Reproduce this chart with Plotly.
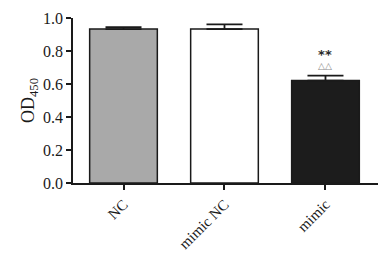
import plotly.graph_objects as go

categories = ["NC", "mimic NC", "mimic"]
values = [0.933, 0.933, 0.621]
errors = [0.012, 0.028, 0.030]
colors = ["#a9a9a9", "#ffffff", "#1c1c1c"]
y_ticks = [0.0, 0.2, 0.4, 0.6, 0.8, 1.0]
y_tick_labels = ["0.0", "0.2", "0.4", "0.6", "0.8", "1.0"]

FONT = "Liberation Serif"
INK = "#1a1a1a"

fig = go.Figure()
fig.add_trace(go.Bar(
    x=list(range(len(categories))),
    y=values,
    width=0.67,
    marker=dict(color=colors, line=dict(color=INK, width=1.5)),
    error_y=dict(type="data", symmetric=False, array=errors,
                 arrayminus=[0] * len(errors),
                 color=INK, thickness=1.8, width=18),
    showlegend=False,
))

top = values[2] + errors[2]
fig.add_annotation(
    x=2, y=top, xref="x", yref="y", showarrow=False, yanchor="bottom", yshift=3,
    text="<span style='font-size:13px;color:#2a2a2a'><b>**</b></span><br>"
         "<span style='font-size:9px;color:#888888'>△△</span>",
    font=dict(family="DejaVu Sans", size=8, color="#2a2a2a"),
)

# page body adds an 8px offset, so the figure is sized to fill the remaining window
fig.update_layout(
    width=384, height=245,
    margin=dict(l=65, r=14, t=10, b=70, autoexpand=False),
    paper_bgcolor="white", plot_bgcolor="white",
    font=dict(family=FONT, size=15, color=INK),
    xaxis=dict(
        range=[-0.5, 2.52], automargin=False,
        tickmode="array", tickvals=list(range(len(categories))), ticktext=categories,
        tickangle=-45, ticks="outside", ticklen=5, tickwidth=1.5, tickcolor=INK,
        showline=True, linecolor=INK, linewidth=1.5,
        showgrid=False, zeroline=False,
        tickfont=dict(family=FONT, size=15, color=INK),
    ),
    yaxis=dict(
        range=[0, 1.0], automargin=False,
        tickmode="array", tickvals=y_ticks, ticktext=y_tick_labels,
        ticks="outside", ticklen=5, tickwidth=1.5, tickcolor=INK,
        showline=True, linecolor=INK, linewidth=1.5,
        showgrid=False, zeroline=False,
        tickfont=dict(family=FONT, size=16, color=INK),
        title=dict(text="OD<sub>450</sub>", font=dict(family=FONT, size=18, color=INK), standoff=4),
    ),
)

fig.write_html("out.html")
